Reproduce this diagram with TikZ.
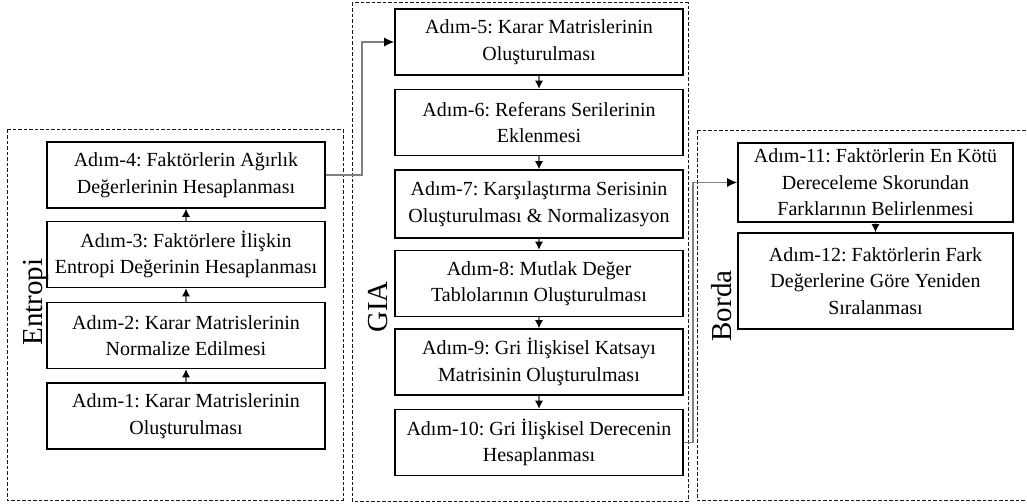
\documentclass[tikz,border=0pt]{standalone}
\usepackage{fontspec}
\setmainfont{Liberation Serif}
\usetikzlibrary{arrows.meta}
\frenchspacing
\begin{document}
\begin{tikzpicture}[x=1bp,y=-1bp,
  stepbox/.style={draw=black, line width=1.6bp, inner sep=0pt, align=center,
    font=\fontsize{20bp}{26.5bp}\selectfont},
  ebox/.style={stepbox, minimum width=278bp, minimum height=66bp},
  gbox/.style={stepbox, minimum width=288bp, minimum height=66bp},
  groupbox/.style={draw=black!90, line width=1bp, dash pattern=on 3.5bp off 2bp},
  grouplabel/.style={rotate=90, anchor=base, inner sep=0pt, font=\fontsize{29bp}{32bp}\selectfont},
  arr/.style={draw=black!55, line width=1.1bp, -{Latex[length=8bp,width=8bp,color=black]}},
  conn/.style={draw=black!50, line width=1.4bp, -{Latex[length=10bp,width=9bp,color=black]}}
]
\useasboundingbox (0,0) rectangle (1027,504);

% group frames
\draw[groupbox] (7,130) rectangle (343,500);
\draw[groupbox] (352,3) rectangle (688,501);
\draw[groupbox] (697,131) rectangle (1034,500);

% group labels
\node[grouplabel] (lent) at (42,302) {Entropi};
\node[grouplabel] (lgia) at (387,307) {GIA};
\node[grouplabel] (lbor) at (731,306) {Borda};

% Entropi steps
\node[ebox] (e4) at (186,175) {Adım-4: Faktörlerin Ağırlık\\Değerlerinin Hesaplanması};
\node[ebox] (e3) at (186,254.5) {Adım-3: Faktörlere İlişkin\\Entropi Değerinin Hesaplanması};
\node[ebox] (e2) at (186,335.5) {Adım-2: Karar Matrislerinin\\Normalize Edilmesi};
\node[ebox] (e1) at (186,416) {Adım-1: Karar Matrislerinin\\Oluşturulması};

% GIA steps
\node[gbox] (g5) at (539,42) {Adım-5: Karar Matrislerinin\\Oluşturulması};
\node[gbox] (g6) at (539,122.5) {Adım-6: Referans Serilerinin\\Eklenmesi};
\node[gbox, minimum height=68bp] (g7) at (539,204) {Adım-7: Karşılaştırma Serisinin\\Oluşturulması \& Normalizasyon};
\node[gbox] (g8) at (539,283.5) {Adım-8: Mutlak Değer\\Tablolarının Oluşturulması};
\node[gbox] (g9) at (539,362) {Adım-9: Gri İlişkisel Katsayı\\Matrisinin Oluşturulması};
\node[gbox] (g10) at (539,442.5) {Adım-10: Gri İlişkisel Derecenin\\Hesaplanması};

% Borda steps
\node[stepbox, minimum width=275bp, minimum height=79bp] (b11) at (875.5,182.5)
  {Adım-11: Faktörlerin En Kötü\\Dereceleme Skorundan\\Farklarının Belirlenmesi};
\node[stepbox, minimum width=275bp, minimum height=96bp] (b12) at (875.5,281)
  {Adım-12: Faktörlerin Fark\\Değerlerine Göre Yeniden\\Sıralanması};

% arrows inside groups
\draw[arr] (e1.north) -- (e2.south);
\draw[arr] (e2.north) -- (e3.south);
\draw[arr] (e3.north) -- (e4.south);
\draw[arr] (g5.south) -- (g6.north);
\draw[arr] (g6.south) -- (g7.north);
\draw[arr] (g7.south) -- (g8.north);
\draw[arr] (g8.south) -- (g9.north);
\draw[arr] (g9.south) -- (g10.north);
\draw[arr] (b11.south) -- (b12.north);

% connectors between groups
\draw[conn] (e4.east) -- ([xshift=36bp]e4.east) |- (g5.west);
\draw[conn] (g10.east) -- ([xshift=9bp]g10.east) |- (b11.west);
\end{tikzpicture}
\end{document}
